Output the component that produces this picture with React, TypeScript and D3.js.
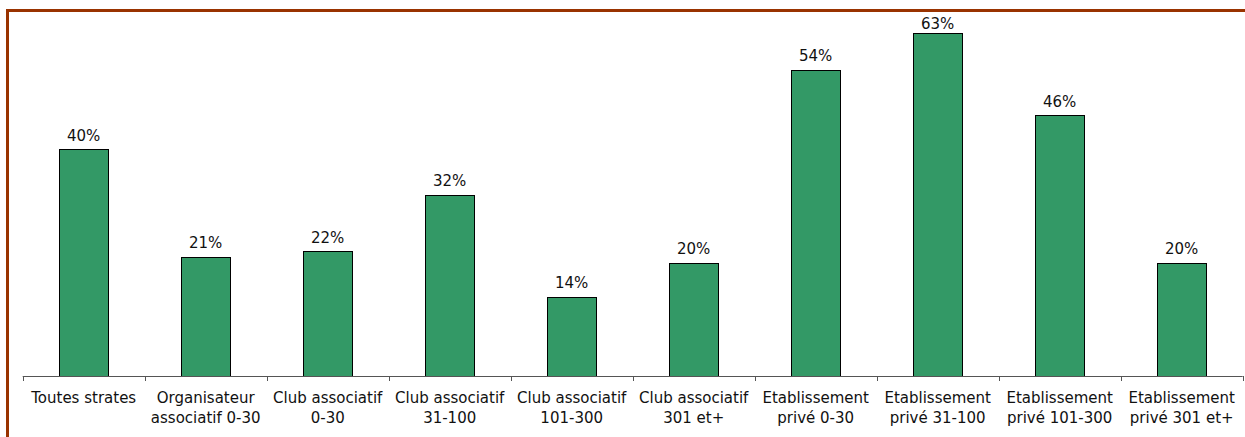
import React from "react";
import * as d3 from "d3";

const categories: string[][] = [
  ["Toutes strates"],
  ["Organisateur", "associatif 0-30"],
  ["Club associatif", "0-30"],
  ["Club associatif", "31-100"],
  ["Club associatif", "101-300"],
  ["Club associatif", "301 et+"],
  ["Etablissement", "privé 0-30"],
  ["Etablissement", "privé 31-100"],
  ["Etablissement", "privé 101-300"],
  ["Etablissement", "privé 301 et+"],
];
const values: number[] = [40, 21, 22, 32, 14, 20, 54, 63, 46, 20];
const yMax = 60.5;

const W = 1245;
const H = 437;
const left = 22.7;
const right = 1242.7;
const baseY = 376;
const topY = 33;
const font = "'DejaVu Sans', Verdana, sans-serif";

export default function App() {
  const keys = categories.map((c, i) => String(i));
  const x = d3
    .scaleBand<string>()
    .domain(keys)
    .range([left, right])
    .paddingInner(0.595)
    .paddingOuter(0.2975);
  const step = x.step();
  const y = d3.scaleLinear().domain([0, yMax]).range([baseY, topY]).clamp(true);

  const tickXs = d3.range(categories.length + 1).map((i) => left + i * step);

  return (
    <svg
      width={W}
      height={H}
      style={{ position: "absolute", left: 0, top: 0, background: "#fff" }}
    >
      <rect x={0} y={0} width={W} height={H} fill="#fff" />
      {/* border */}
      <line x1={6} y1={10.5} x2={W} y2={10.5} stroke="#993300" strokeWidth={3} />
      <line x1={7.5} y1={9} x2={7.5} y2={H} stroke="#993300" strokeWidth={3} />

      {/* bars */}
      {values.map((v, i) => {
        const bx = x(keys[i])!;
        const yt = y(v);
        const clipped = v > yMax;
        return (
          <g key={i}>
            <rect
              x={Math.round(bx) + 0.5}
              y={Math.round(yt) + 0.5}
              width={Math.round(x.bandwidth())}
              height={baseY - Math.round(yt)}
              fill="#339966"
              stroke="#000"
              strokeWidth={1}
            />
            <text
              x={bx + x.bandwidth() / 2}
              y={yt - (clipped ? 4 : 8.5)}
              textAnchor="middle"
              fontFamily={font}
              fontSize={15}
              fill="#111"
            >
              {v}%
            </text>
          </g>
        );
      })}

      {/* axis */}
      <line x1={left} y1={baseY + 0.5} x2={right} y2={baseY + 0.5} stroke="#555" strokeWidth={1} />
      {tickXs.map((tx, i) => (
        <line
          key={i}
          x1={Math.round(tx) + 0.5}
          y1={baseY}
          x2={Math.round(tx) + 0.5}
          y2={baseY + 5}
          stroke="#555"
          strokeWidth={1}
        />
      ))}

      {/* category labels */}
      {categories.map((lines, i) => (
        <text
          key={i}
          x={x(keys[i])! + x.bandwidth() / 2}
          textAnchor="middle"
          fontFamily={font}
          fontSize={15}
          fill="#111"
        >
          {lines.map((ln, j) => (
            <tspan key={j} x={x(keys[i])! + x.bandwidth() / 2} y={403 + j * 19.5}>
              {ln}
            </tspan>
          ))}
        </text>
      ))}
    </svg>
  );
}
